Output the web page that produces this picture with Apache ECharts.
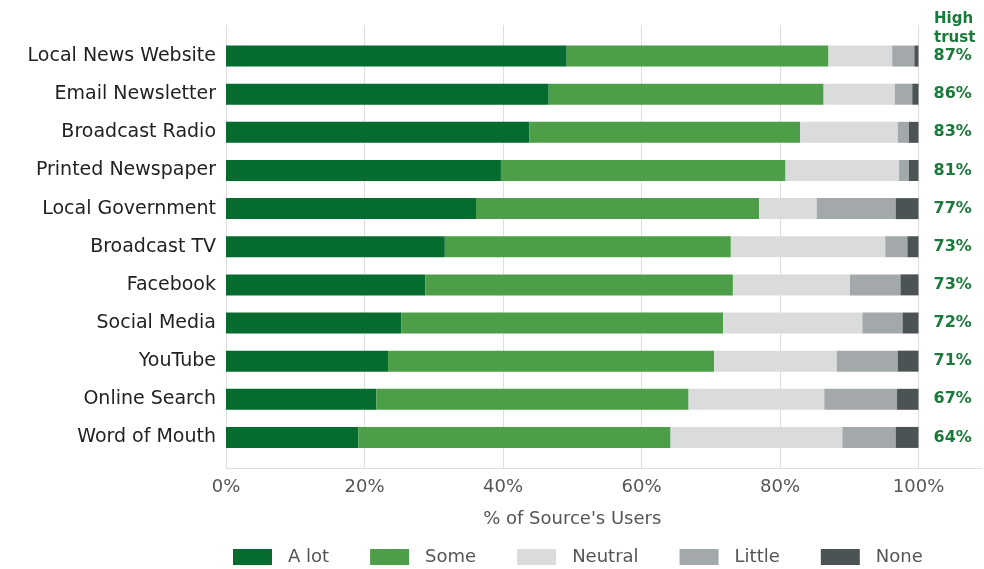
<!DOCTYPE html>
<html>
<head>
<meta charset="utf-8">
<script src="https://cdn.jsdelivr.net/npm/echarts@6/dist/echarts.min.js"></script>
<style>html,body{margin:0;padding:0;background:#fff;}#c{width:984px;height:569px;}</style>
</head>
<body>
<div id="c"></div>
<script>
const categories = ["Local News Website","Email Newsletter","Broadcast Radio","Printed Newspaper","Local Government","Broadcast TV","Facebook","Social Media","YouTube","Online Search","Word of Mouth"];
const aLot    = [49.2, 46.6, 43.8, 39.7, 36.1, 31.6, 28.8, 25.3, 23.4, 21.7, 19.1];
const some    = [37.8, 39.7, 39.1, 41.1, 40.9, 41.3, 44.4, 46.5, 47.1, 45.1, 45.1];
const neutral = [9.2, 10.3, 14.1, 16.4, 8.3, 22.3, 16.9, 20.1, 17.7, 19.6, 24.8];
const little  = [3.2, 2.5, 1.6, 1.4, 11.4, 3.2, 7.3, 5.8, 8.8, 10.5, 7.7];
const none    = [0.6, 0.9, 1.4, 1.4, 3.3, 1.6, 2.6, 2.3, 3.0, 3.1, 3.3];
const highTrust = [87, 86, 83, 81, 77, 73, 73, 72, 71, 67, 64];
const xTicks = [0, 20, 40, 60, 80, 100];
const seriesNames = ["A lot", "Some", "Neutral", "Little", "None"];
const colors = ["#056b2f", "#4c9e48", "#d9dcdb", "#a3a8aa", "#4b5354"];

const FONT = "DejaVu Sans";
const chart = echarts.init(document.getElementById('c'), null, {renderer: 'canvas'});
const values = [aLot, some, neutral, little, none];

const series = seriesNames.map((name, i) => ({
  name: name,
  type: 'bar',
  stack: 'total',
  xAxisIndex: 0,
  yAxisIndex: 0,
  barWidth: 21,
  itemStyle: {color: colors[i]},
  data: values[i],
  z: 3,
  label: i === 4 ? {
    show: true,
    position: 'right',
    distance: 15,
    formatter: p => highTrust[p.dataIndex] + '%',
    color: '#1b7a3b',
    fontFamily: FONT,
    fontWeight: 'bold',
    fontSize: 16
  } : {show: false}
}));

chart.setOption({
  animation: false,
  backgroundColor: '#fff',
  textStyle: {fontFamily: FONT},
  color: colors,
  title: {
    text: 'High\ntrust',
    left: 929,
    top: 5,
    textAlign: 'left',
    textStyle: {color: '#1b7a3b', fontFamily: FONT, fontWeight: 'bold', fontSize: 15, lineHeight: 19, align: 'left'}
  },
  legend: {
    data: seriesNames,
    left: 228,
    top: 543,
    itemWidth: 39,
    itemHeight: 16,
    itemGap: 41,
    icon: 'rect',
    textStyle: {color: '#555', fontSize: 18, fontFamily: FONT, padding: [0, 0, 0, 11]}
  },
  grid: [
    {left: 226, right: 65.5, top: 37, bottom: 112.5},
    {left: 226, right: 65.5, top: 25, bottom: 101},
    {left: 226, right: 2, top: 25, bottom: 101}
  ],
  xAxis: [
    {gridIndex: 0, type: 'value', min: 0, max: 100, show: false},
    {gridIndex: 1, type: 'value', min: 0, max: 100, interval: 20,
     axisLine: {show: false}, axisTick: {show: false},
     splitLine: {show: true, lineStyle: {color: '#dedede', width: 1}},
     axisLabel: {formatter: v => xTicks.includes(v) ? v + '%' : '', color: '#555', fontSize: 18, fontFamily: FONT, margin: 10},
     name: "% of Source's Users", nameLocation: 'middle', nameGap: 42,
     nameTextStyle: {color: '#555', fontSize: 18, fontFamily: FONT}},
    {gridIndex: 2, type: 'value', min: 0, max: 100, axisLine: {show: true, lineStyle: {color: '#dedede', width: 1}},
     axisTick: {show: false}, axisLabel: {show: false}, splitLine: {show: false}}
  ],
  yAxis: [
    {gridIndex: 0, type: 'category', data: categories, inverse: true,
     axisLine: {show: false}, axisTick: {show: false},
     axisLabel: {color: '#222', fontSize: 19, fontFamily: FONT, margin: 10}},
    {gridIndex: 1, type: 'value', show: false},
    {gridIndex: 2, type: 'value', show: false}
  ],
  series: series
});
</script>
</body>
</html>
